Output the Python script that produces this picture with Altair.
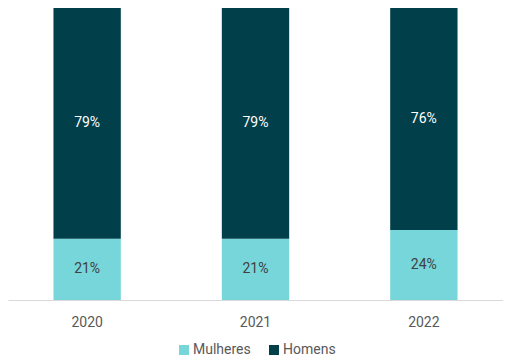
import altair as alt
import pandas as pd

years = ["2020", "2021", "2022"]
mulheres = [21, 21, 24]
homens = [79, 79, 76]
series = ["Mulheres", "Homens"]
colors = ["#76D6DA", "#013F4B"]
label_colors = ["#404040", "#FFFFFF"]

rows = []
for i, y in enumerate(years):
    rows.append({"ano": y, "grupo": "Mulheres", "valor": mulheres[i], "ord": 0})
    rows.append({"ano": y, "grupo": "Homens", "valor": homens[i], "ord": 1})
df = pd.DataFrame(rows)

base = alt.Chart(df)

x_enc = alt.X("ano:N", title=None,
              scale=alt.Scale(paddingInner=0.6, paddingOuter=0.27),
              axis=alt.Axis(labelAngle=0, ticks=False, grid=False, domainColor="#D9D9D9",
                            domainWidth=1, labelColor="#595959", labelFontSize=14,
                            labelFont="Roboto", labelPadding=15))

bars = base.mark_bar().encode(
    x=x_enc,
    y=alt.Y("valor:Q", stack="zero", axis=None, scale=alt.Scale(domain=[0, 100], nice=False)),
    color=alt.Color("grupo:N", scale=alt.Scale(domain=series, range=colors),
                    legend=alt.Legend(title=None, orient="none", direction="horizontal",
                                      legendX=169, legendY=335, symbolType="square",
                                      symbolSize=100, labelFontSize=14, labelFont="Roboto",
                                      labelColor="#595959", columnPadding=16, labelOffset=2,
                                      symbolStrokeWidth=0)),
    order=alt.Order("ord:Q"),
)

texts = base.transform_stack(
    stack="valor", groupby=["ano"], as_=["v0", "v1"], sort=[alt.SortField("ord")]
).transform_calculate(
    mid="(datum.v0 + datum.v1) / 2",
    txt="datum.valor + '%'"
).mark_text(fontSize=14, font="Roboto", baseline="middle").encode(
    x=alt.X("ano:N"),
    y=alt.Y("mid:Q"),
    text="txt:N",
    color=alt.Color("grupo:N", scale=alt.Scale(domain=series, range=label_colors), legend=None),
)

chart = alt.layer(bars, texts).resolve_scale(color="independent").properties(
    width=495, height=292, padding=0
).configure_view(stroke=None)

chart.save("out.html", embed_options={"renderer": "svg", "actions": False})
